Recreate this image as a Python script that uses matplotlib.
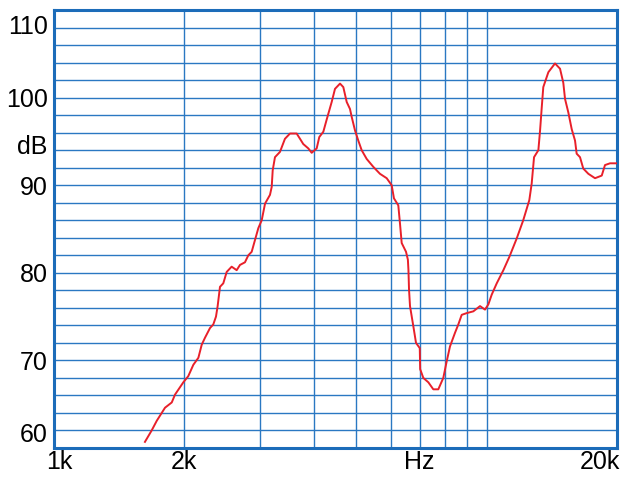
import matplotlib.pyplot as plt
import numpy as np

# response curve (frequency in kHz, level in dB)
freq_khz = [
    1.623, 1.682, 1.728, 1.806, 1.872, 1.905, 1.991, 2.044, 2.100, 2.157,
    2.196, 2.235, 2.295, 2.335, 2.369, 2.390, 2.420, 2.463, 2.508, 2.575,
    2.645, 2.692, 2.764, 2.814, 2.865, 2.916, 2.968, 3.022, 3.076, 3.158,
    3.187, 3.204, 3.243, 3.330, 3.420, 3.513, 3.640, 3.705, 3.770, 3.873,
    3.943, 4.049, 4.106, 4.195, 4.271, 4.386, 4.464, 4.585, 4.666, 4.751,
    4.835, 4.879, 4.966, 5.053, 5.145, 5.284, 5.473, 5.672, 5.878, 6.036,
    6.110, 6.253, 6.310, 6.367, 6.515, 6.580, 6.600, 6.620, 6.655, 6.774,
    6.871, 7.010, 7.025, 7.144, 7.337, 7.534, 7.737, 7.945, 8.091, 8.234,
    8.456, 8.606, 8.763, 9.000, 9.322, 9.661, 9.920, 10.10, 10.28, 10.56,
    10.94, 11.30, 11.74, 12.16, 12.56, 12.72, 12.88, 13.18, 13.30, 13.42,
    13.53, 13.90, 14.40, 14.79, 15.05, 15.19, 15.46, 15.74, 16.02, 16.16,
    16.45, 16.74, 17.20, 17.82, 18.47, 18.79, 19.30, 20.00,
]
level_db = [
    60.7, 62.0, 63.1, 64.6, 65.2, 66.1, 67.5, 68.2, 69.5, 70.3,
    71.8, 72.6, 73.7, 74.1, 75.0, 76.2, 78.4, 78.8, 80.1, 80.7,
    80.3, 80.9, 81.2, 82.0, 82.4, 83.75, 85.1, 86.0, 87.9, 88.9,
    89.8, 91.7, 93.2, 93.8, 95.3, 95.9, 95.9, 95.3, 94.7, 94.2,
    93.7, 94.2, 95.5, 96.1, 97.5, 99.5, 101.0, 101.6, 101.2, 99.5,
    98.7, 97.8, 96.25, 95.1, 94.0, 93.0, 92.1, 91.3, 90.8, 90.0,
    88.5, 87.7, 85.6, 83.4, 82.4, 81.5, 80.3, 78.1, 76.2, 73.9,
    72.0, 71.4, 69.0, 68.0, 67.5, 66.7, 66.7, 68.0, 69.9, 71.6,
    73.15, 74.1, 75.2, 75.4, 75.6, 76.2, 75.8, 76.4, 77.5, 78.8,
    80.3, 81.85, 83.9, 86.0, 88.3, 90.2, 93.2, 94.0, 96.25, 98.9,
    101.2, 102.9, 103.9, 103.3, 101.7, 99.85, 98.3, 96.4, 95.1, 93.6,
    93.2, 91.9, 91.3, 90.8, 91.1, 92.3, 92.5, 92.5,
]

x_grid_hz = [2000, 3000, 4000, 5000, 6000, 7000, 8000, 9000, 10000]
x_label_pos = [1030, 2000, 7000, 18300]
x_label_txt = ["1k", "2k", "Hz", "20k"]
y_label_pos = [61.8, 70, 80, 90, 94.7, 100, 108.4]
y_label_txt = ["60", "70", "80", "90", "dB", "100", "110"]

plt.rcParams["font.family"] = ["Liberation Sans Narrow", "Liberation Sans", "DejaVu Sans"]

grid_blue = "#2a78c2"
frame_blue = "#1c6cb9"

fig = plt.figure(figsize=(6.32, 4.79), dpi=100)
ax = fig.add_axes([0.0854, 0.0647, 0.8904, 0.9144])

for y in np.arange(62, 110, 2):
    ax.axhline(y, color=grid_blue, lw=1.0, zorder=1)
for x in x_grid_hz:
    ax.axvline(x, color=grid_blue, lw=1.0, zorder=1)

ax.plot(np.array(freq_khz) * 1000, level_db, color="#e8202a", lw=1.4, zorder=3)

ax.set_xscale("log")
ax.set_xlim(1000, 20000)
ax.set_ylim(60, 110)
ax.minorticks_off()
ax.set_xticks(x_label_pos)
ax.set_xticklabels(x_label_txt)
ax.set_yticks(y_label_pos)
ax.set_yticklabels(y_label_txt)
ax.tick_params(length=0, labelsize=18, colors="black")
ax.tick_params(axis="x", pad=1.5)
ax.tick_params(axis="y", pad=4.5)
for spine in ax.spines.values():
    spine.set_color(frame_blue)
    spine.set_linewidth(2.2)

fig.savefig("out.png", dpi=100)
